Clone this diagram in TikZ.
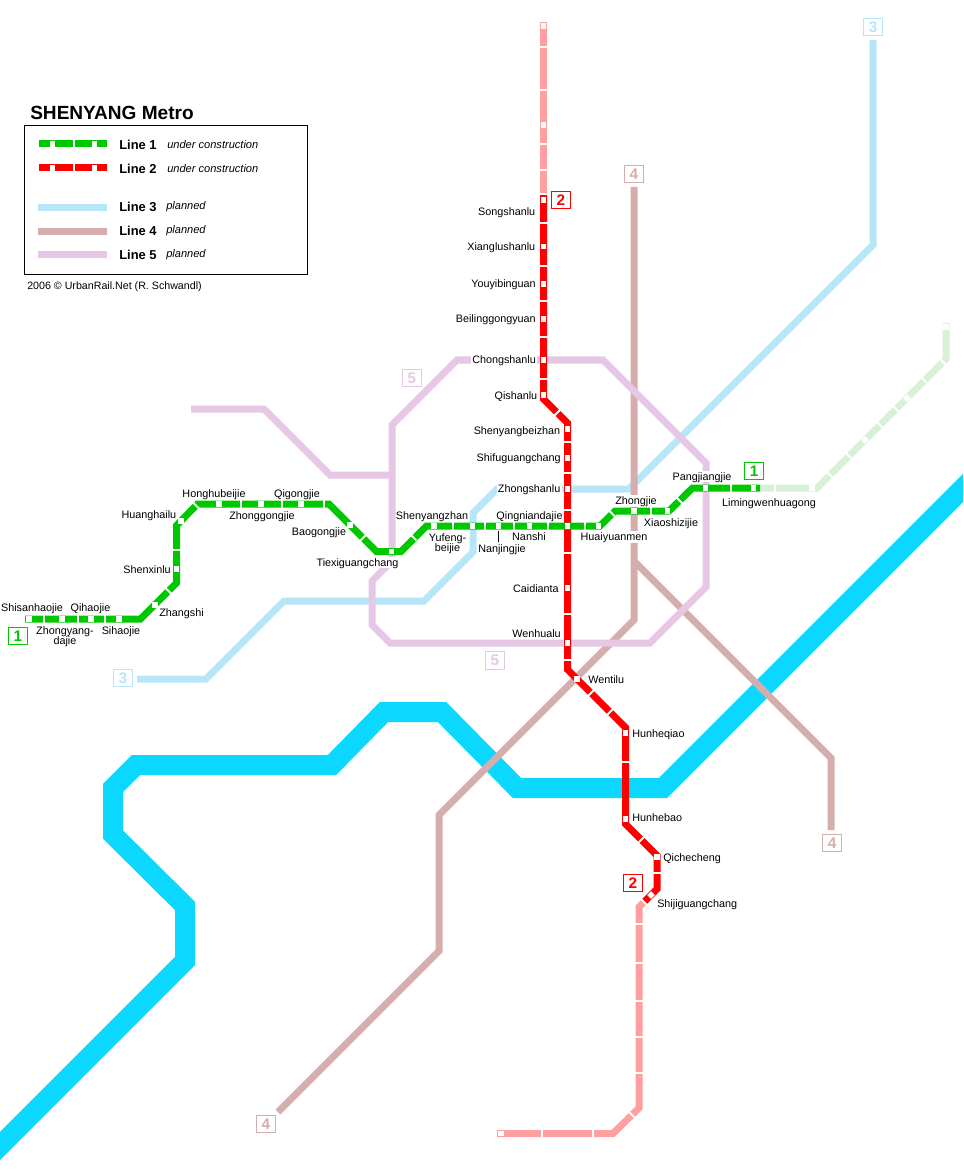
\documentclass[tikz,border=0pt]{standalone}
\usepackage{fontspec}
\setmainfont{Liberation Sans}
\usepackage{tikz}
\definecolor{riverc}{HTML}{0CD8FF}
\definecolor{oneC}{HTML}{00C800}
\definecolor{oneL}{HTML}{D7F0D7}
\definecolor{twoC}{HTML}{FF0000}
\definecolor{twoL}{HTML}{FF9F9F}
\definecolor{threeC}{HTML}{B6E6F7}
\definecolor{fourC}{HTML}{D5ADAD}
\definecolor{fiveC}{HTML}{E6C8E6}
\tikzset{river/.style = {draw=riverc, line width=15pt, miter limit=10}}
\tikzset{metro/.style = {line width=5.25pt, miter limit=10}}
\tikzset{station/.style = {fill=white, inner sep=0pt, minimum size=4pt}}
\tikzset{cutbar/.style = {fill=white, inner sep=0pt, minimum width=7pt, minimum height=1.5pt}}
\tikzset{cuth/.style = {cutbar, rotate=90}}
\tikzset{cutv/.style = {cutbar}}
\tikzset{cutup/.style = {cutbar, rotate=-45}}
\tikzset{cutdn/.style = {cutbar, rotate=45}}
\tikzset{lbl/.style = {font=\fontsize{8.1}{7.8}\selectfont, inner sep=0pt, text height=7.2pt, text depth=1.7pt}}
\tikzset{lblw/.style = {lbl, fill=white, inner xsep=1pt}}
\tikzset{lbltwo/.style = {font=\fontsize{8.1}{7.8}\selectfont, inner sep=0pt, align=center}}
\tikzset{tag/.style = {draw=#1, text=#1, line width=.75pt, inner sep=0pt, minimum width=14.2pt, minimum height=12.8pt,
    font=\fontsize{11.5}{12}\selectfont\bfseries}}
\tikzset{legtext/.style = {font=\fontsize{9.7}{10}\selectfont\bfseries, inner sep=0pt, anchor=west}}
\tikzset{legnote/.style = {font=\fontsize{8.3}{9}\selectfont\itshape, inner sep=0pt, anchor=west}}
\begin{document}
\begin{tikzpicture}[x=.75pt, y=-.75pt]
    \useasboundingbox (0,0) rectangle (963,1176);
    \clip (0,0) rectangle (963,1176);

    % river
    \coordinate (r1) at (1000,451);
    \coordinate (r2) at (663,788);
    \coordinate (r3) at (517,788);
    \coordinate (r4) at (442,712);
    \coordinate (r5) at (384,712);
    \coordinate (r6) at (332,765);
    \coordinate (r7) at (136,765);
    \coordinate (r8) at (113,788);
    \coordinate (r9) at (113,834.5);
    \coordinate (r10) at (185,906);
    \coordinate (r11) at (185,961);
    \coordinate (r12) at (-20,1166);
    \draw[river] (r1) -- (r2) -- (r3) -- (r4) -- (r5) -- (r6) -- (r7) -- (r8) -- (r9) -- (r10) -- (r11) -- (r12);

    % planned lines
    \coordinate (c1) at (873,40);
    \coordinate (c2) at (873,245);
    \coordinate (c3) at (629,489);
    \coordinate (c4) at (497,489);
    \coordinate (c5) at (473,513);
    \coordinate (c6) at (473,552);
    \coordinate (c7) at (424,601);
    \coordinate (c8) at (284,601);
    \coordinate (c9) at (206,679);
    \coordinate (c10) at (137,679);
    \draw[metro, threeC] (c1) -- (c2) -- (c3) -- (c4) -- (c5) -- (c6) -- (c7) -- (c8) -- (c9) -- (c10);

    \coordinate (d1) at (634,187);
    \coordinate (d2) at (634,620);
    \coordinate (d3) at (439,815);
    \coordinate (d4) at (439,951);
    \coordinate (d5) at (278,1112);
    \coordinate (d6) at (634,561);
    \coordinate (d7) at (831,758);
    \coordinate (d8) at (831,830);
    \draw[metro, fourC] (d1) -- (d2) -- (d3) -- (d4) -- (d5);
    \draw[metro, fourC] (d6) -- (d7) -- (d8);

    \coordinate (e1) at (457,360);
    \coordinate (e2) at (603,360);
    \coordinate (e3) at (706,463);
    \coordinate (e4) at (706,587);
    \coordinate (e5) at (650,643);
    \coordinate (e6) at (390,643);
    \coordinate (e7) at (372,625);
    \coordinate (e8) at (372,581);
    \coordinate (e9) at (392,561);
    \coordinate (e10) at (392,425);
    \coordinate (e11) at (392,475);
    \coordinate (e12) at (330,475);
    \coordinate (e13) at (264,409);
    \coordinate (e14) at (191,409);
    \draw[metro, fiveC] (e1) -- (e2) -- (e3) -- (e4) -- (e5) -- (e6) -- (e7) -- (e8) -- (e9) -- (e10) -- cycle;
    \draw[metro, fiveC] (e11) -- (e12) -- (e13) -- (e14);

    % labels that hide the planned lines
    \node[lblw, anchor=east] (lChongshanlu) at (537.5,359.5) {Chongshanlu};
    \node[lblw, anchor=east] (lZhongshanlu) at (562,488.5) {Zhongshanlu};
    \node[lblw] (lZhongjie) at (636,501) {Zhongjie};
    \node[lblw] (lHuaiyuanmen) at (614,537) {Huaiyuanmen};
    \node[lblw] (lPangjiangjie) at (702,476.5) {Pangjiangjie};
    \node[lblw] (lTiexiguangchang) at (357.5,562.5) {Tiexiguangchang};

    % line 2
    \coordinate (b1) at (543.5,22);
    \coordinate (b2) at (543.5,194);
    \coordinate (b3) at (543.5,399);
    \coordinate (b4) at (567.5,423);
    \coordinate (b5) at (567.5,669.5);
    \coordinate (b6) at (625.5,727.5);
    \coordinate (b7) at (625.5,824);
    \coordinate (b8) at (657,855.5);
    \coordinate (b9) at (657,889);
    \coordinate (b10) at (644,902);
    \coordinate (b11) at (639,907);
    \coordinate (b12) at (639,1108);
    \coordinate (b13) at (613,1133.5);
    \coordinate (b14) at (497,1133.5);
    \draw[metro, twoL] (b1) -- (b2);
    \draw[metro, twoL] (b10) -- (b11) -- (b12) -- (b13) -- (b14);
    \draw[metro, twoC] (b2) -- (b3) -- (b4) -- (b5) -- (b6) -- (b7) -- (b8) -- (b9) -- (b10);

    % line 1
    \coordinate (a1) at (25,619);
    \coordinate (a2) at (140.5,619);
    \coordinate (a3) at (176.5,583);
    \coordinate (a4) at (176.5,525.5);
    \coordinate (a5) at (197.5,504);
    \coordinate (a6) at (329,504);
    \coordinate (a7) at (376.5,551.5);
    \coordinate (a8) at (401,551.5);
    \coordinate (a9) at (426.5,526);
    \coordinate (a10) at (600,526);
    \coordinate (a11) at (615,511);
    \coordinate (a12) at (669,511);
    \coordinate (a13) at (692.5,488);
    \coordinate (a14) at (760,488);
    \coordinate (a15) at (817,488);
    \coordinate (a16) at (946,359);
    \coordinate (a17) at (946,323);
    \draw[metro, oneL] (a14) -- (a15) -- (a16) -- (a17);
    \draw[metro, oneC] (a1) -- (a2) -- (a3) -- (a4) -- (a5) -- (a6) -- (a7) -- (a8) -- (a9) -- (a10) -- (a11) -- (a12) -- (a13) -- (a14);

    % cuts in line 1
    \node[cuth] (x1) at (44,619) {};
    \node[cuth] (x2) at (78,619) {};
    \node[cuth] (x3) at (105,619) {};
    \node[cutup] (x4) at (168.5,591) {};
    \node[cutv] (x5) at (176.5,549.5) {};
    \node[cutup] (x6) at (196.5,506) {};
    \node[cuth] (x7) at (241,504) {};
    \node[cuth] (x8) at (281.5,504) {};
    \node[cuth] (x9) at (324,504) {};
    \node[cutdn] (x10) at (363,538) {};
    \node[cutup] (x11) at (413,537) {};
    \node[cuth] (x12) at (453,526) {};
    \node[cuth] (x13) at (485,526) {};
    \node[cuth] (x14) at (514,526) {};
    \node[cuth] (x15) at (548,526) {};
    \node[cuth] (x16) at (585,526) {};
    \node[cutup] (x17) at (612,513.5) {};
    \node[cuth] (x18) at (650.5,511) {};
    \node[cutup] (x19) at (680,501) {};
    \node[cuth] (x20) at (731,488) {};
    \node[cuth] (x21) at (775,488) {};
    \node[cutup] (x22) at (830,475) {};
    \node[cutup] (x23) at (849,456) {};
    \node[cutup] (x24) at (880,425) {};
    \node[cutup] (x25) at (896,409) {};
    \node[cutup] (x26) at (924.5,380.5) {};
    \node[cutup] (x27) at (943,362) {};

    % cuts in line 2
    \node[cutv] (y1) at (543.5,47) {};
    \node[cutv] (y2) at (543.5,90) {};
    \node[cutv] (y3) at (543.5,144) {};
    \node[cutv] (y4) at (543.5,170) {};
    \node[cutv] (y5) at (543.5,194) {};
    \node[cutv] (y6) at (543.5,223) {};
    \node[cutv] (y7) at (543.5,266) {};
    \node[cutv] (y8) at (543.5,301) {};
    \node[cutv] (y9) at (543.5,337) {};
    \node[cutv] (y10) at (543.5,379) {};
    \node[cutdn] (y11) at (557,413) {};
    \node[cutv] (y12) at (567.5,442) {};
    \node[cutv] (y13) at (567.5,473) {};
    \node[cutv] (y14) at (567.5,510) {};
    \node[cutv] (y15) at (567.5,553) {};
    \node[cutv] (y16) at (567.5,614) {};
    \node[cutv] (y17) at (567.5,660) {};
    \node[cutdn] (y18) at (591,693) {};
    \node[cutdn] (y19) at (610,712) {};
    \node[cutv] (y20) at (625.5,762) {};
    \node[cutdn] (y21) at (641,840) {};
    \node[cutv] (y22) at (657,873) {};
    \node[cutup] (y23) at (644,902) {};
    \node[cutv] (y24) at (639,924) {};
    \node[cutv] (y25) at (639,963) {};
    \node[cutv] (y26) at (639,1001) {};
    \node[cutv] (y27) at (639,1037) {};
    \node[cutv] (y28) at (639,1073) {};
    \node[cutup] (y29) at (632,1115) {};
    \node[cuth] (y30) at (593,1133.5) {};
    \node[cuth] (y31) at (542,1133.5) {};

    % stations line 1
    \node[station] (sShisanhaojie) at (29,619) {};
    \node[station] (sZhongyangdajie) at (62,619) {};
    \node[station] (sQihaojie) at (91,619) {};
    \node[station] (sSihaojie) at (119,619) {};
    \node[station] (sZhangshi) at (155,605) {};
    \node[station] (sShenxinlu) at (176.5,569) {};
    \node[station] (sHuanghailu) at (181,521) {};
    \node[station] (sHonghubeijie) at (219,504) {};
    \node[station] (sZhonggongjie) at (261,504) {};
    \node[station] (sQigongjie) at (301,504) {};
    \node[station] (sBaogongjie) at (350,525) {};
    \node[station] (sTiexiguangchang) at (391.5,551.5) {};
    \node[station] (sShenyangzhan) at (434,526) {};
    \node[station] (sYufengbeijie) at (472.5,526) {};
    \node[station] (sNanjingjie) at (498.5,526) {};
    \node[station] (sNanshi) at (529.5,526) {};
    \node[station] (sHuaiyuanmen) at (598.5,526) {};
    \node[station] (sZhongjie) at (634,511) {};
    \node[station] (sXiaoshizijie) at (667.5,511) {};
    \node[station] (sPangjiangjie) at (705.5,488) {};
    \node[station] (sLimingwenhuagong) at (753.5,488) {};
    \node[station] (sA) at (812,488) {};
    \node[station, rotate=45] (sB) at (865,440) {};
    \node[station, rotate=45] (sC) at (907,398) {};
    \node[station] (sD) at (946,327) {};

    % stations line 2
    \node[station] (tA) at (543.5,26) {};
    \node[station] (tB) at (543.5,125) {};
    \node[station] (sSongshanlu) at (543.5,200) {};
    \node[station] (sXianglushanlu) at (543.5,246.5) {};
    \node[station] (sYouyibinguan) at (543.5,284) {};
    \node[station] (sBeilinggongyuan) at (543.5,319) {};
    \node[station] (sChongshanlu) at (543.5,360) {};
    \node[station] (sQishanlu) at (543.5,395) {};
    \node[station] (sShenyangbeizhan) at (567.5,429) {};
    \node[station] (sShifuguangchang) at (567.5,458) {};
    \node[station] (sZhongshanlu) at (567.5,489) {};
    \node[station] (sQingniandajie) at (567.5,526) {};
    \node[station] (sCaidianta) at (567.5,588) {};
    \node[station] (sWenhualu) at (567.5,643) {};
    \node[station] (sWentilu) at (577,679) {};
    \node[station] (sHunheqiao) at (625.5,733) {};
    \node[station] (sHunhebao) at (625.5,819) {};
    \node[station] (sQichecheng) at (657,857) {};
    \node[station, rotate=45] (sShijiguangchang) at (651,895) {};
    \node[station] (tC) at (501,1133.5) {};

    % station names
    \node[lbl] (lShisanhaojie) at (32,608) {Shisanhaojie};
    \node[lbl] (lQihaojie) at (90.5,608) {Qihaojie};
    \node[lbltwo] (lZhongyangdajie) at (65,637) {Zhongyang-\\dajie};
    \node[lbl] (lSihaojie) at (121,631) {Sihaojie};
    \node[lbl, anchor=west] (lZhangshi) at (159,612.5) {Zhangshi};
    \node[lbl, anchor=east] (lShenxinlu) at (171,569.5) {Shenxinlu};
    \node[lbl, anchor=east] (lHuanghailu) at (176.5,514.5) {Huanghailu};
    \node[lbl] (lHonghubeijie) at (214,493.5) {Honghubeijie};
    \node[lbl] (lZhonggongjie) at (262,515.5) {Zhonggongjie};
    \node[lbl] (lQigongjie) at (297,493.5) {Qigongjie};
    \node[lbl] (lBaogongjie) at (319,531.5) {Baogongjie};
    \node[lbl] (lShenyangzhan) at (432,515.5) {Shenyangzhan};
    \node[lbltwo] (lYufengbeijie) at (447.5,544) {Yufeng-\\beijie};
    \node[lbl] (lNanjingjie) at (502,548.5) {Nanjingjie};
    \coordinate (nj1) at (498.5,531);
    \coordinate (nj2) at (498.5,542);
    \draw[line width=.75pt] (nj1) -- (nj2);
    \node[lbl] (lNanshi) at (529,536.5) {Nanshi};
    \node[lbl] (lQingniandajie) at (529.5,515.5) {Qingniandajie};
    \node[lbl] (lXiaoshizijie) at (671,522.5) {Xiaoshizijie};
    \node[lbl] (lLimingwenhuagong) at (769,502.5) {Limingwenhuagong};
    \node[lbl, anchor=east] (lSongshanlu) at (535.5,212) {Songshanlu};
    \node[lbl, anchor=east] (lXianglushanlu) at (535.5,247) {Xianglushanlu};
    \node[lbl, anchor=east] (lYouyibinguan) at (536,283.5) {Youyibinguan};
    \node[lbl, anchor=east] (lBeilinggongyuan) at (536,318.5) {Beilinggongyuan};
    \node[lbl, anchor=east] (lQishanlu) at (537.5,396) {Qishanlu};
    \node[lbl, anchor=east] (lShenyangbeizhan) at (560.5,431) {Shenyangbeizhan};
    \node[lbl, anchor=east] (lShifuguangchang) at (561,457.5) {Shifuguangchang};
    \node[lbl, anchor=east] (lCaidianta) at (559,588.5) {Caidianta};
    \node[lbl, anchor=east] (lWenhualu) at (561,633.5) {Wenhualu};
    \node[lbl, anchor=west] (lWentilu) at (588,679.5) {Wentilu};
    \node[lbl, anchor=west] (lHunheqiao) at (632,733.5) {Hunheqiao};
    \node[lbl, anchor=west] (lHunhebao) at (632,817.5) {Hunhebao};
    \node[lbl, anchor=west] (lQichecheng) at (663,857.5) {Qichecheng};
    \node[lbl, anchor=west] (lShijiguangchang) at (657,903.5) {Shijiguangchang};

    % line numbers
    \node[tag=oneC] (tag1a) at (18,636) {1};
    \node[tag=oneC] (tag1b) at (754,471) {1};
    \node[tag=twoC] (tag2a) at (561,200) {2};
    \node[tag=twoC] (tag2b) at (633,883) {2};
    \node[tag=threeC] (tag3a) at (873,27) {3};
    \node[tag=threeC] (tag3b) at (123,678) {3};
    \node[tag=fourC] (tag4a) at (634,174) {4};
    \node[tag=fourC] (tag4b) at (832,843) {4};
    \node[tag=fourC] (tag4c) at (266,1124) {4};
    \node[tag=fiveC] (tag5a) at (412,378) {5};
    \node[tag=fiveC] (tag5b) at (495,660.5) {5};

    % legend
    \node[font=\fontsize{14.3}{15}\selectfont\bfseries, inner sep=0pt, anchor=west] (title) at (30,112.5) {SHENYANG Metro};
    \node[draw, line width=.75pt, inner sep=0pt, minimum width=212pt, minimum height=112pt] (legend) at (165.7,200.3) {};
    \node[font=\fontsize{8}{9}\selectfont, inner sep=0pt, anchor=west] (credit) at (27,287) {2006 © UrbanRail.Net (R. Schwandl)};

    \coordinate (k1a) at (39,144);
    \coordinate (k1b) at (107,144);
    \draw[metro, oneC] (k1a) -- (k1b);
    \node[cuth] (k1c) at (74,144) {};
    \node[station] (k1s) at (52.5,144) {};
    \node[station] (k1t) at (94.5,144) {};
    \coordinate (k2a) at (39,168);
    \coordinate (k2b) at (107,168);
    \draw[metro, twoC] (k2a) -- (k2b);
    \node[cuth] (k2c) at (74,168) {};
    \node[station] (k2s) at (52.5,168) {};
    \node[station] (k2t) at (94.5,168) {};
    \coordinate (k3a) at (38,207.5);
    \coordinate (k3b) at (107,207.5);
    \draw[metro, threeC] (k3a) -- (k3b);
    \coordinate (k4a) at (38,231.5);
    \coordinate (k4b) at (107,231.5);
    \draw[metro, fourC] (k4a) -- (k4b);
    \coordinate (k5a) at (38,254.5);
    \coordinate (k5b) at (107,254.5);
    \draw[metro, fiveC] (k5a) -- (k5b);

    \node[legtext] (n1) at (119,144.5) {Line 1};
    \node[legtext] (n2) at (119,168.5) {Line 2};
    \node[legtext] (n3) at (119,206.5) {Line 3};
    \node[legtext] (n4) at (119,230.5) {Line 4};
    \node[legtext] (n5) at (119,254.5) {Line 5};
    \node[legnote] (m1) at (167,145) {under construction};
    \node[legnote] (m2) at (167,169) {under construction};
    \node[legnote] (m3) at (166,206.5) {planned};
    \node[legnote] (m4) at (166,230.5) {planned};
    \node[legnote] (m5) at (166,254.5) {planned};
\end{tikzpicture}
\end{document}
